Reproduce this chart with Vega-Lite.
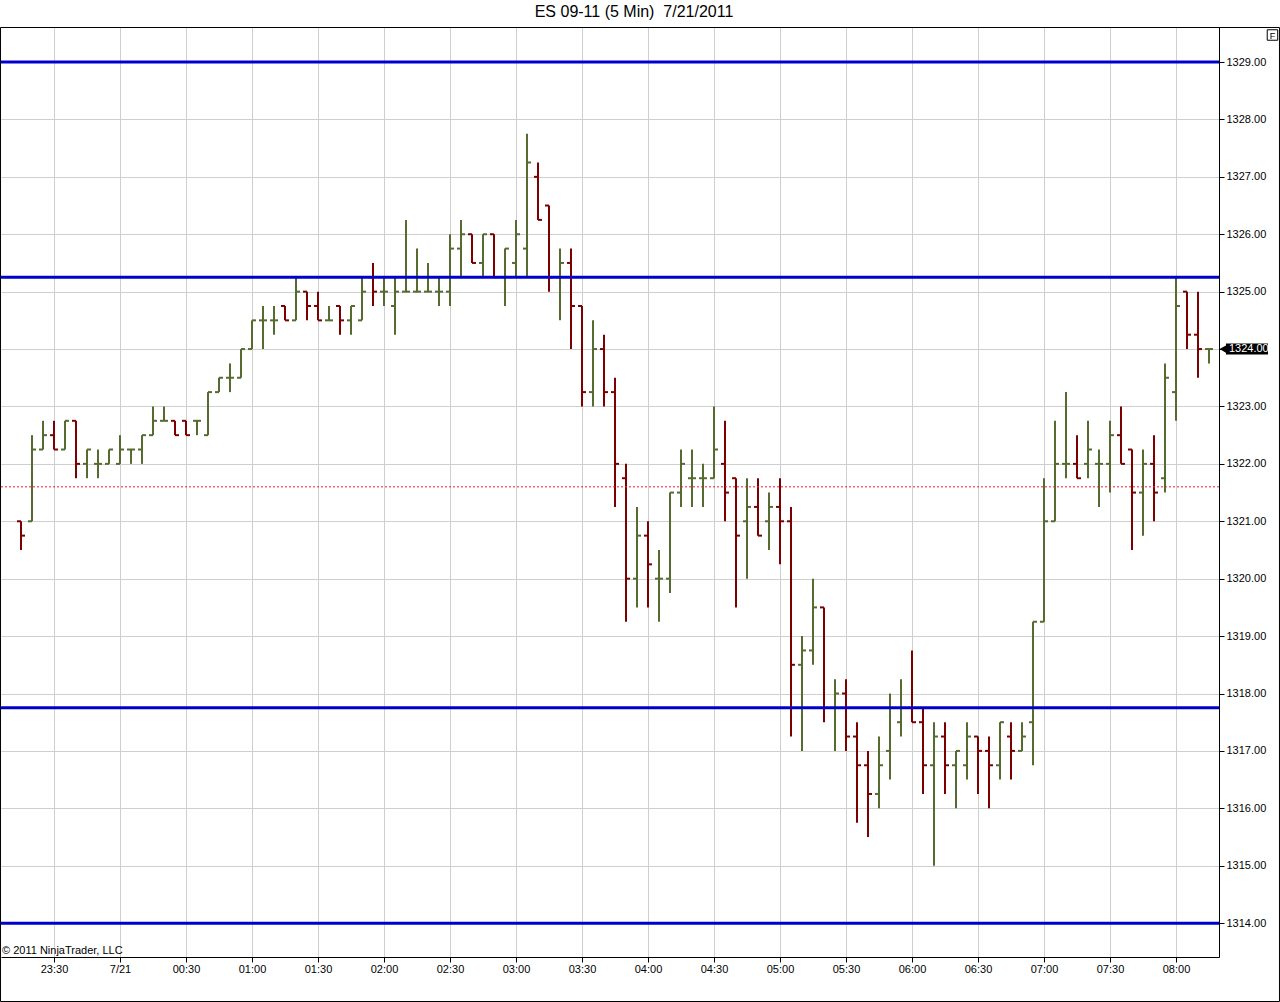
{
  "$schema": "https://vega.github.io/schema/vega-lite/v6.json",
  "width": 1218,
  "height": 930,
  "autosize": {"type": "none"},
  "padding": {"left": 1, "top": 27, "right": 61, "bottom": 45},
  "background": "white",
  "title": {"text": "ES 09-11 (5 Min) \u00a07/21/2011", "anchor": "middle", "frame": "group", "dx": 24, "offset": 7, "fontSize": 16, "fontWeight": "normal", "font": "Liberation Sans", "color": "black"},
  "config": {
    "view": {"stroke": null},
    "axis": {"labelFont": "Liberation Sans", "labelFontSize": 11, "labelColor": "black", "domainColor": "black", "tickColor": "black", "tickSize": 5, "gridColor": "#cfcfcf", "gridWidth": 1}
  },
  "resolve": {"axis": {"x": "independent", "y": "independent"}},
  "data": {
    "values": [
      {"t":"2011-07-20 23:15","o":1321,"h":1321,"l":1320.5,"c":1320.75},
      {"t":"2011-07-20 23:20","o":1321,"h":1322.5,"l":1321,"c":1322.25},
      {"t":"2011-07-20 23:25","o":1322.25,"h":1322.75,"l":1322.25,"c":1322.5},
      {"t":"2011-07-20 23:30","o":1322.5,"h":1322.75,"l":1322.25,"c":1322.25},
      {"t":"2011-07-20 23:35","o":1322.25,"h":1322.75,"l":1322.25,"c":1322.75},
      {"t":"2011-07-20 23:40","o":1322.75,"h":1322.75,"l":1321.75,"c":1322},
      {"t":"2011-07-20 23:45","o":1322,"h":1322.25,"l":1321.75,"c":1322.25},
      {"t":"2011-07-20 23:50","o":1322,"h":1322.25,"l":1321.75,"c":1322},
      {"t":"2011-07-20 23:55","o":1322,"h":1322.25,"l":1322,"c":1322.25},
      {"t":"2011-07-21 00:00","o":1322,"h":1322.5,"l":1322,"c":1322.25},
      {"t":"2011-07-21 00:05","o":1322.25,"h":1322.25,"l":1322,"c":1322.25},
      {"t":"2011-07-21 00:10","o":1322.25,"h":1322.5,"l":1322,"c":1322.5},
      {"t":"2011-07-21 00:15","o":1322.5,"h":1323,"l":1322.5,"c":1322.75},
      {"t":"2011-07-21 00:20","o":1322.75,"h":1323,"l":1322.75,"c":1322.75},
      {"t":"2011-07-21 00:25","o":1322.75,"h":1322.75,"l":1322.5,"c":1322.5},
      {"t":"2011-07-21 00:30","o":1322.75,"h":1322.75,"l":1322.5,"c":1322.5},
      {"t":"2011-07-21 00:35","o":1322.75,"h":1322.75,"l":1322.5,"c":1322.75},
      {"t":"2011-07-21 00:40","o":1322.5,"h":1323.25,"l":1322.5,"c":1323.25},
      {"t":"2011-07-21 00:45","o":1323.25,"h":1323.5,"l":1323.25,"c":1323.5},
      {"t":"2011-07-21 00:50","o":1323.5,"h":1323.75,"l":1323.25,"c":1323.5},
      {"t":"2011-07-21 00:55","o":1323.5,"h":1324,"l":1323.5,"c":1324},
      {"t":"2011-07-21 01:00","o":1324,"h":1324.5,"l":1324,"c":1324.5},
      {"t":"2011-07-21 01:05","o":1324.5,"h":1324.75,"l":1324,"c":1324.5},
      {"t":"2011-07-21 01:10","o":1324.5,"h":1324.75,"l":1324.25,"c":1324.5},
      {"t":"2011-07-21 01:15","o":1324.75,"h":1324.75,"l":1324.5,"c":1324.5},
      {"t":"2011-07-21 01:20","o":1324.5,"h":1325.25,"l":1324.5,"c":1325},
      {"t":"2011-07-21 01:25","o":1325,"h":1325,"l":1324.5,"c":1324.75},
      {"t":"2011-07-21 01:30","o":1324.75,"h":1325,"l":1324.5,"c":1324.5},
      {"t":"2011-07-21 01:35","o":1324.5,"h":1324.75,"l":1324.5,"c":1324.5},
      {"t":"2011-07-21 01:40","o":1324.75,"h":1324.75,"l":1324.25,"c":1324.5},
      {"t":"2011-07-21 01:45","o":1324.5,"h":1324.75,"l":1324.25,"c":1324.75},
      {"t":"2011-07-21 01:50","o":1324.5,"h":1325.25,"l":1324.5,"c":1325},
      {"t":"2011-07-21 01:55","o":1325.25,"h":1325.5,"l":1324.75,"c":1325},
      {"t":"2011-07-21 02:00","o":1325,"h":1325.25,"l":1324.75,"c":1325},
      {"t":"2011-07-21 02:05","o":1324.75,"h":1325.25,"l":1324.25,"c":1325},
      {"t":"2011-07-21 02:10","o":1325,"h":1326.25,"l":1325,"c":1325},
      {"t":"2011-07-21 02:15","o":1325,"h":1325.75,"l":1325,"c":1325},
      {"t":"2011-07-21 02:20","o":1325,"h":1325.5,"l":1325,"c":1325},
      {"t":"2011-07-21 02:25","o":1325,"h":1325.25,"l":1324.75,"c":1325},
      {"t":"2011-07-21 02:30","o":1325,"h":1326,"l":1324.75,"c":1325.75},
      {"t":"2011-07-21 02:35","o":1325.75,"h":1326.25,"l":1325.25,"c":1326},
      {"t":"2011-07-21 02:40","o":1326,"h":1326,"l":1325.5,"c":1325.5},
      {"t":"2011-07-21 02:45","o":1325.5,"h":1326,"l":1325.25,"c":1326},
      {"t":"2011-07-21 02:50","o":1326,"h":1326,"l":1325.25,"c":1325.25},
      {"t":"2011-07-21 02:55","o":1325.25,"h":1325.75,"l":1324.75,"c":1325.75},
      {"t":"2011-07-21 03:00","o":1325.5,"h":1326.25,"l":1325.25,"c":1326},
      {"t":"2011-07-21 03:05","o":1325.75,"h":1327.75,"l":1325.25,"c":1327.25},
      {"t":"2011-07-21 03:10","o":1327,"h":1327.25,"l":1326.25,"c":1326.25},
      {"t":"2011-07-21 03:15","o":1326.5,"h":1326.5,"l":1325,"c":1325.25},
      {"t":"2011-07-21 03:20","o":1325.25,"h":1325.75,"l":1324.5,"c":1325.5},
      {"t":"2011-07-21 03:25","o":1325.5,"h":1325.75,"l":1324,"c":1324.75},
      {"t":"2011-07-21 03:30","o":1324.75,"h":1324.75,"l":1323,"c":1323.25},
      {"t":"2011-07-21 03:35","o":1323.25,"h":1324.5,"l":1323,"c":1324},
      {"t":"2011-07-21 03:40","o":1324,"h":1324.25,"l":1323,"c":1323.25},
      {"t":"2011-07-21 03:45","o":1323.25,"h":1323.5,"l":1321.25,"c":1322},
      {"t":"2011-07-21 03:50","o":1321.75,"h":1322,"l":1319.25,"c":1320},
      {"t":"2011-07-21 03:55","o":1320,"h":1321.25,"l":1319.5,"c":1320.75},
      {"t":"2011-07-21 04:00","o":1320.75,"h":1321,"l":1319.5,"c":1320.25},
      {"t":"2011-07-21 04:05","o":1320,"h":1320.5,"l":1319.25,"c":1320},
      {"t":"2011-07-21 04:10","o":1320,"h":1321.5,"l":1319.75,"c":1321.5},
      {"t":"2011-07-21 04:15","o":1321.5,"h":1322.25,"l":1321.25,"c":1322},
      {"t":"2011-07-21 04:20","o":1321.75,"h":1322.25,"l":1321.25,"c":1321.75},
      {"t":"2011-07-21 04:25","o":1321.75,"h":1322,"l":1321.25,"c":1321.75},
      {"t":"2011-07-21 04:30","o":1321.75,"h":1323,"l":1321.75,"c":1322.25},
      {"t":"2011-07-21 04:35","o":1322,"h":1322.75,"l":1321,"c":1321.5},
      {"t":"2011-07-21 04:40","o":1321.75,"h":1321.75,"l":1319.5,"c":1320.75},
      {"t":"2011-07-21 04:45","o":1321,"h":1321.75,"l":1320,"c":1321.25},
      {"t":"2011-07-21 04:50","o":1321.25,"h":1321.75,"l":1320.75,"c":1320.75},
      {"t":"2011-07-21 04:55","o":1321,"h":1321.5,"l":1320.5,"c":1321.25},
      {"t":"2011-07-21 05:00","o":1321.25,"h":1321.75,"l":1320.25,"c":1321},
      {"t":"2011-07-21 05:05","o":1321,"h":1321.25,"l":1317.25,"c":1318.5},
      {"t":"2011-07-21 05:10","o":1318.5,"h":1319,"l":1317,"c":1318.75},
      {"t":"2011-07-21 05:15","o":1318.75,"h":1320,"l":1318.5,"c":1319.5},
      {"t":"2011-07-21 05:20","o":1319.5,"h":1319.5,"l":1317.5,"c":1317.75},
      {"t":"2011-07-21 05:25","o":1317.75,"h":1318.25,"l":1317,"c":1318},
      {"t":"2011-07-21 05:30","o":1318,"h":1318.25,"l":1317,"c":1317.25},
      {"t":"2011-07-21 05:35","o":1317.25,"h":1317.5,"l":1315.75,"c":1316.75},
      {"t":"2011-07-21 05:40","o":1316.75,"h":1317,"l":1315.5,"c":1316.25},
      {"t":"2011-07-21 05:45","o":1316.25,"h":1317.25,"l":1316,"c":1316.75},
      {"t":"2011-07-21 05:50","o":1317,"h":1318,"l":1316.5,"c":1317.75},
      {"t":"2011-07-21 05:55","o":1317.5,"h":1318.25,"l":1317.25,"c":1317.75},
      {"t":"2011-07-21 06:00","o":1317.75,"h":1318.75,"l":1317.5,"c":1317.5},
      {"t":"2011-07-21 06:05","o":1317.5,"h":1317.75,"l":1316.25,"c":1316.75},
      {"t":"2011-07-21 06:10","o":1316.75,"h":1317.5,"l":1315,"c":1317.25},
      {"t":"2011-07-21 06:15","o":1317.25,"h":1317.5,"l":1316.25,"c":1316.75},
      {"t":"2011-07-21 06:20","o":1316.75,"h":1317,"l":1316,"c":1317},
      {"t":"2011-07-21 06:25","o":1316.75,"h":1317.5,"l":1316.5,"c":1317.25},
      {"t":"2011-07-21 06:30","o":1317.25,"h":1317.25,"l":1316.25,"c":1317},
      {"t":"2011-07-21 06:35","o":1317,"h":1317.25,"l":1316,"c":1316.75},
      {"t":"2011-07-21 06:40","o":1316.75,"h":1317.5,"l":1316.5,"c":1317.5},
      {"t":"2011-07-21 06:45","o":1317.25,"h":1317.5,"l":1316.5,"c":1317},
      {"t":"2011-07-21 06:50","o":1317,"h":1317.5,"l":1317,"c":1317.25},
      {"t":"2011-07-21 06:55","o":1317.5,"h":1319.25,"l":1316.75,"c":1319.25},
      {"t":"2011-07-21 07:00","o":1319.25,"h":1321.75,"l":1319.25,"c":1321},
      {"t":"2011-07-21 07:05","o":1321,"h":1322.75,"l":1321,"c":1322},
      {"t":"2011-07-21 07:10","o":1322,"h":1323.25,"l":1321.75,"c":1322},
      {"t":"2011-07-21 07:15","o":1322,"h":1322.5,"l":1321.75,"c":1321.75},
      {"t":"2011-07-21 07:20","o":1322,"h":1322.75,"l":1321.75,"c":1322.25},
      {"t":"2011-07-21 07:25","o":1322,"h":1322.25,"l":1321.25,"c":1322},
      {"t":"2011-07-21 07:30","o":1322,"h":1322.75,"l":1321.5,"c":1322.5},
      {"t":"2011-07-21 07:35","o":1322.5,"h":1323,"l":1322,"c":1322},
      {"t":"2011-07-21 07:40","o":1322.25,"h":1322.25,"l":1320.5,"c":1321.5},
      {"t":"2011-07-21 07:45","o":1321.5,"h":1322.25,"l":1320.75,"c":1322},
      {"t":"2011-07-21 07:50","o":1322,"h":1322.5,"l":1321,"c":1321.5},
      {"t":"2011-07-21 07:55","o":1321.75,"h":1323.75,"l":1321.5,"c":1323.5},
      {"t":"2011-07-21 08:00","o":1323.25,"h":1325.25,"l":1322.75,"c":1324.75},
      {"t":"2011-07-21 08:05","o":1325,"h":1325,"l":1324,"c":1324.25},
      {"t":"2011-07-21 08:10","o":1324.25,"h":1325,"l":1323.5,"c":1324},
      {"t":"2011-07-21 08:15","o":1324,"h":1324,"l":1323.75,"c":1324}
    ],
    "format": {"parse": {"t": "date:'%Y-%m-%d %H:%M'"}}
  },
  "layer": [
    {
      "mark": {"type": "rule", "strokeWidth": 2},
      "encoding": {
        "x": {"field": "t", "type": "temporal", "title": null,
              "scale": {"domain": [{"year":2011,"month":7,"date":20,"hours":23,"minutes":5,"seconds":54,"milliseconds":545},{"year":2011,"month":7,"date":21,"hours":8,"minutes":19,"seconds":32,"milliseconds":727}]},
              "axis": {"grid": true, "format": "%H:%M", "labelExpr": "datum.label == '00:00' ? '7/21' : datum.label", "labelPadding": 1,
                       "values": [
                         {"year":2011,"month":7,"date":20,"hours":23,"minutes":30},
                         {"year":2011,"month":7,"date":21,"hours":0,"minutes":0},
                         {"year":2011,"month":7,"date":21,"hours":0,"minutes":30},
                         {"year":2011,"month":7,"date":21,"hours":1,"minutes":0},
                         {"year":2011,"month":7,"date":21,"hours":1,"minutes":30},
                         {"year":2011,"month":7,"date":21,"hours":2,"minutes":0},
                         {"year":2011,"month":7,"date":21,"hours":2,"minutes":30},
                         {"year":2011,"month":7,"date":21,"hours":3,"minutes":0},
                         {"year":2011,"month":7,"date":21,"hours":3,"minutes":30},
                         {"year":2011,"month":7,"date":21,"hours":4,"minutes":0},
                         {"year":2011,"month":7,"date":21,"hours":4,"minutes":30},
                         {"year":2011,"month":7,"date":21,"hours":5,"minutes":0},
                         {"year":2011,"month":7,"date":21,"hours":5,"minutes":30},
                         {"year":2011,"month":7,"date":21,"hours":6,"minutes":0},
                         {"year":2011,"month":7,"date":21,"hours":6,"minutes":30},
                         {"year":2011,"month":7,"date":21,"hours":7,"minutes":0},
                         {"year":2011,"month":7,"date":21,"hours":7,"minutes":30},
                         {"year":2011,"month":7,"date":21,"hours":8,"minutes":0}
                       ]}},
        "y": {"field": "l", "type": "quantitative", "title": null,
              "scale": {"domain": [1313.41, 1329.61], "zero": false, "nice": false},
              "axis": {"orient": "right", "grid": true, "values": [1314,1315,1316,1317,1318,1319,1320,1321,1322,1323,1324,1325,1326,1327,1328,1329], "format": ".2f", "labelPadding": 2}},
        "y2": {"field": "h"},
        "color": {"condition": {"test": "datum.c < datum.o", "value": "#7d0000"}, "value": "#556b2f"}
      }
    },
    {
      "mark": {"type": "rule", "strokeWidth": 2, "xOffset": -4, "x2Offset": 0},
      "encoding": {
        "x": {"field": "t", "type": "temporal", "title": null, "axis": null},
        "x2": {"field": "t"},
        "y": {"field": "o", "type": "quantitative", "title": null, "axis": null},
        "color": {"condition": {"test": "datum.c < datum.o", "value": "#7d0000"}, "value": "#556b2f"}
      }
    },
    {
      "mark": {"type": "rule", "strokeWidth": 2, "xOffset": 0, "x2Offset": 4},
      "encoding": {
        "x": {"field": "t", "type": "temporal", "title": null, "axis": null},
        "x2": {"field": "t"},
        "y": {"field": "c", "type": "quantitative", "title": null, "axis": null},
        "color": {"condition": {"test": "datum.c < datum.o", "value": "#7d0000"}, "value": "#556b2f"}
      }
    },
    {
      "data": {"values": [{"level": 1321.6}]},
      "mark": {"type": "rule", "color": "#e8203a", "strokeWidth": 1, "strokeDash": [2, 2]},
      "encoding": {
        "y": {"field": "level", "type": "quantitative", "title": null, "axis": null}
      }
    },
    {
      "data": {"values": [{"level": 1329}, {"level": 1325.25}, {"level": 1317.75}, {"level": 1314}]},
      "mark": {"type": "rule", "color": "#0000cc", "strokeWidth": 3},
      "encoding": {
        "y": {"field": "level", "type": "quantitative", "title": null, "axis": null}
      }
    },
    {
      "data": {"values": [{"label": "© 2011 NinjaTrader, LLC", "tx": "2011-07-20 23:05:55", "py": 1313.41}]},
      "mark": {"type": "text", "align": "left", "baseline": "alphabetic", "dx": 1, "dy": -3, "fontSize": 11, "font": "Liberation Sans", "color": "black"},
      "encoding": {
        "x": {"field": "tx", "type": "temporal", "axis": null, "title": null},
        "y": {"field": "py", "type": "quantitative", "axis": null, "title": null},
        "text": {"field": "label"}
      }
    },
    {
      "data": {"values": [{"kind": "frame", "tx": "2011-07-20 23:05:55", "tx2": "2011-07-21 08:19:32", "py": 1329.61, "py2": 1313.41}]},
      "mark": {"type": "rect", "filled": false, "stroke": "black", "strokeWidth": 1, "clip": false, "xOffset": -0.5, "x2Offset": 60.5, "yOffset": 0.5, "y2Offset": 44.5},
      "encoding": {
        "x": {"field": "tx", "type": "temporal", "axis": null, "title": null},
        "x2": {"field": "tx2"},
        "y": {"field": "py", "type": "quantitative", "axis": null, "title": null},
        "y2": {"field": "py2"}
      }
    },
    {
      "data": {"values": [{"last": 1324, "tx": "2011-07-21 08:19:32"}]},
      "mark": {"type": "rule", "color": "black", "strokeWidth": 11, "clip": false, "xOffset": 7, "x2Offset": 49},
      "encoding": {
        "x": {"field": "tx", "type": "temporal", "axis": null, "title": null},
        "x2": {"field": "tx"},
        "y": {"field": "last", "type": "quantitative", "axis": null, "title": null}
      }
    },
    {
      "data": {"values": [{"last": 1324, "tx": "2011-07-21 08:19:32"}]},
      "mark": {"type": "point", "shape": "triangle-left", "filled": true, "color": "black", "size": 60, "opacity": 1, "clip": false, "xOffset": 4},
      "encoding": {
        "x": {"field": "tx", "type": "temporal", "axis": null, "title": null},
        "y": {"field": "last", "type": "quantitative", "axis": null, "title": null}
      }
    },
    {
      "data": {"values": [{"last": 1324, "label": "1324.00", "tx": "2011-07-21 08:19:32"}]},
      "mark": {"type": "text", "align": "left", "baseline": "middle", "dx": 10, "fontSize": 11, "font": "Liberation Sans", "color": "white", "clip": false},
      "encoding": {
        "x": {"field": "tx", "type": "temporal", "axis": null, "title": null},
        "y": {"field": "last", "type": "quantitative", "axis": null, "title": null},
        "text": {"field": "label"}
      }
    },
    {
      "data": {"values": [{"label": "F", "tx": "2011-07-21 08:19:32", "py": 1329.61}]},
      "mark": {"type": "point", "shape": "square", "filled": false, "stroke": "black", "strokeWidth": 1, "fill": "white", "size": 110, "opacity": 1, "clip": false, "xOffset": 53.5, "yOffset": 8},
      "encoding": {
        "x": {"field": "tx", "type": "temporal", "axis": null, "title": null},
        "y": {"field": "py", "type": "quantitative", "axis": null, "title": null}
      }
    },
    {
      "data": {"values": [{"label": "F", "tx": "2011-07-21 08:19:32", "py": 1329.61}]},
      "mark": {"type": "text", "align": "center", "baseline": "middle", "dx": 53.5, "dy": 8.5, "fontSize": 9, "font": "Liberation Sans", "color": "black", "clip": false},
      "encoding": {
        "x": {"field": "tx", "type": "temporal", "axis": null, "title": null},
        "y": {"field": "py", "type": "quantitative", "axis": null, "title": null},
        "text": {"field": "label"}
      }
    }
  ]
}
